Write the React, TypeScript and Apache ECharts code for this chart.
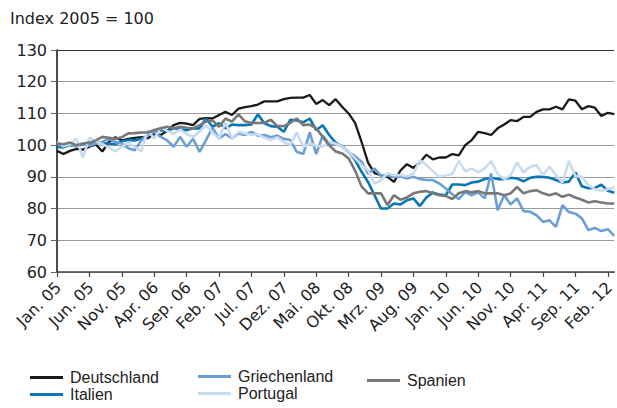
import React, { useEffect, useRef } from "react";
import * as echarts from "echarts";

const monthNames = ["Jan.", "Feb.", "Mrz.", "Apr.", "Mai.", "Jun.", "Jul.", "Aug.", "Sep.", "Okt.", "Nov.", "Dez."];
const years = ["05", "06", "07", "08", "09", "10", "11", "12"];
const monthCount = 87; // Jan. 05 .. Mrz. 12

const deutschland = [
  98.2, 97.2, 98.2, 98.8, 98.6, 99.5, 100.2, 98, 101, 102.5, 101.5, 102,
  102.3, 102.5, 102.2, 103.5, 103.2, 104.5, 106.3, 107, 106.8, 106.3, 108.3, 108.5,
  108.4, 109.5, 110.5, 109.5, 111.5, 112, 112.3, 112.8, 113.8, 113.8, 113.8, 114.5,
  114.9, 115, 115, 115.8, 113, 114.2, 112.6, 114.5, 112.1, 110, 107, 101,
  94.5, 91.2, 90.5, 90, 88.4, 92, 94, 92.8, 94.6, 97, 95.5, 96.1,
  96.1, 97.2, 96.8, 100, 101.6, 104.2, 103.8, 103.2, 105.3, 106.5, 107.9, 107.6,
  108.9, 108.9, 110.5, 111.3, 111.3, 112.1, 111.3, 114.4, 114, 111.3, 112.3, 111.8,
  109.2, 110.2, 109.8,
];

const italien = [
  99.5, 99.3, 100, 99.8, 100.2, 100, 101, 100.5, 100.5, 100.3, 101.2, 101.6,
  101.5, 102, 103, 104.5, 104.7, 104.5, 105.3, 105, 104.7, 105.3, 105.3, 108.4,
  105.8, 106.9, 105.3, 106.5, 106.3, 106.3, 106.5, 109.7, 106.9, 106, 105.8, 104.2,
  108, 107.8, 107.2, 108.4, 104.7, 106.3, 103.2, 100.8, 99.5, 97.9, 95.3, 91.6,
  88.4, 84.2, 80, 80, 81.6, 81.3, 82.6, 83.2, 80.8, 83.5, 85.1, 84.4,
  84.2, 87.6, 87.6, 87.4, 88.2, 88.5, 89.3, 89.7, 89.3, 89.3, 89.7, 89.5,
  88.6, 89.7, 90, 90, 89.7, 89, 88.2, 88.5, 91.4, 87, 86.4, 86.5,
  87.5, 85.6, 85,
];

const griechenland = [
  100.5, 99.5, 100.2, 99.6, 100.3, 99.8, 100.5, 101, 102, 101, 100.5, 99,
  98.4, 101.5, 103, 104.2, 102.6, 101.5, 99.5, 102.6, 99.5, 102, 97.9, 101.6,
  105.5, 102.1, 103.5, 102.1, 103.7, 103.2, 104.2, 103, 103.2, 102.5, 103, 102,
  101.6, 97.9, 97.2, 104, 97.2, 103, 100.5, 100.2, 99.8, 97.7, 96.5, 94.8,
  91, 92.6, 90.3, 90.5, 90, 90.2, 89.5, 90, 89.3, 89, 89, 87.9,
  86.3, 84.5, 83, 85.3, 84.2, 85.1, 83.2, 91.1, 79.5, 84.2, 81.3, 83.2,
  79.2, 79, 77.9, 75.8, 76.3, 74.2, 81.1, 78.9, 78.4, 76.9, 73.2, 73.9,
  72.9, 73.5, 71.4,
];

const portugal = [
  101, 99.8, 100.3, 102, 96, 102.4, 101.2, 100.3, 99.3, 98, 99.5, 100.8,
  99.5, 98, 104.7, 102.1, 105.6, 104.5, 103.5, 104.9, 103.5, 102.6, 104.3, 106.3,
  104, 102.1, 107.2, 102.1, 104.2, 103.7, 103.2, 103.5, 102.3, 101.6, 102.5, 101,
  100, 104, 99.5, 100.5, 99.8, 99.5, 101, 100.5, 99.5, 97.9, 95.8, 93.7,
  92.1, 87.9, 89, 91.1, 90.5, 90.6, 90.2, 91, 95.3, 93.7, 91.8, 90,
  90.5, 90.9, 95, 91.8, 92.6, 91.4, 92.6, 95, 90.9, 89.3, 90.5, 94.5,
  91.4, 93.2, 93.7, 90.6, 93.2, 90.5, 88.2, 95, 90.3, 90, 87.4, 86.1,
  85.6, 86.1, 86.7,
];

const spanien = [
  100.5, 100.3, 100.8, 100, 100.5, 100.8, 101.5, 102.6, 102.3, 102, 102.5, 103.7,
  103.8, 104, 104, 104.8, 105.3, 105.8, 105.3, 105.8, 105.5, 105.3, 106.3, 107.4,
  107.8, 105.8, 108.4, 107.4, 109.7, 107.5, 107, 107, 107, 108, 106, 106,
  107, 108.4, 106.3, 106.5, 105.3, 102.6, 100, 98, 97.4, 95.8, 92, 87,
  84.8, 84.8, 84.8, 81.1, 84.2, 82.8, 83.5, 84.8, 85.3, 85.5, 84.8, 84.2,
  84, 83, 84.8, 85.5, 85.1, 85.5, 84.8, 84.8, 84.8, 84.2, 84.8, 86.8,
  84.8, 85.5, 85.8, 84.8, 84.2, 84.8, 83.7, 84.4, 83.5, 82.8, 81.9, 82.3,
  81.9, 81.6, 81.6,
];

const yTicks = [60, 70, 80, 90, 100, 110, 120, 130];

const categories: string[] = [];
for (let i = 0; i < monthCount; i++) {
  categories.push(monthNames[i % 12] + " " + years[Math.floor(i / 12)]);
}

const WIDE = "'DejaVu Sans', Verdana, sans-serif";
const NARROW = "'Liberation Sans', Arial, Helvetica, sans-serif";

const seriesDefs = [
  { name: "Deutschland", data: deutschland, color: "#1a1a1a", width: 2.3 },
  { name: "Italien", data: italien, color: "#0a76b6", width: 2.6 },
  { name: "Griechenland", data: griechenland, color: "#6c9fd4", width: 2.6 },
  { name: "Portugal", data: portugal, color: "#c9dbf1", width: 2.6 },
  { name: "Spanien", data: spanien, color: "#787878", width: 2.6 },
];

export default function App() {
  const ref = useRef<HTMLDivElement>(null);
  useEffect(() => {
    if (!ref.current) return;
    const chart = echarts.init(ref.current, null, { renderer: "svg" });
    const legendText = { fontSize: 16, color: "#222", fontFamily: NARROW, lineHeight: 17, padding: [0, 0, 0, 2] };
    const legendBase = {
      orient: "vertical",
      icon: "rect",
      itemWidth: 33,
      itemHeight: 3,
      itemGap: 0,
      padding: 0,
      textStyle: legendText,
      selectedMode: false,
    };
    chart.setOption({
      animation: false,
      title: {
        text: "Index 2005 = 100",
        left: 10,
        top: 10,
        padding: 0,
        textStyle: { fontSize: 16, fontWeight: "normal", color: "#222", fontFamily: WIDE },
      },
      legend: [
        { ...legendBase, left: 30, top: 369, data: ["Deutschland", "Italien"] },
        { ...legendBase, left: 198, top: 368, data: ["Griechenland", "Portugal"] },
        { ...legendBase, left: 367, top: 372, data: ["Spanien"] },
      ],
      grid: { left: 57, right: 2, top: 50, bottom: 136, containLabel: false },
      xAxis: {
        type: "category",
        data: categories,
        boundaryGap: false,
        axisLine: { lineStyle: { color: "#444", width: 1.5 } },
        axisTick: { interval: 4, length: 5, lineStyle: { color: "#444", width: 1.2 } },
        axisLabel: {
          interval: 4,
          rotate: 45,
          margin: 14,
          padding: [14, -2, 0, 0],
          fontSize: 16,
          color: "#222",
          fontFamily: WIDE,
        },
        splitLine: { show: false },
      },
      yAxis: {
        type: "value",
        min: yTicks[0],
        max: yTicks[yTicks.length - 1],
        interval: 10,
        axisLine: { show: true, lineStyle: { color: "#111", width: 1.5 } },
        axisTick: { show: true, length: 6, lineStyle: { color: "#666", width: 1 } },
        axisLabel: { margin: 10, fontSize: 16, color: "#222", fontFamily: WIDE },
        splitLine: {
          lineStyle: {
            color: ["#999", "#999", "#999", "#999", "#999", "#999", "#999", "#333"],
            width: 1.2,
          },
        },
      },
      series: seriesDefs.map((s) => ({
        name: s.name,
        type: "line",
        data: s.data,
        showSymbol: false,
        symbol: "none",
        color: s.color,
        lineStyle: { color: s.color, width: s.width },
        itemStyle: { color: s.color },
        emphasis: { disabled: true },
      })),
    });
    return () => chart.dispose();
  }, []);
  return (
    <div
      ref={ref}
      style={{ position: "absolute", left: 0, top: 0, width: 617, height: 408 }}
    />
  );
}
